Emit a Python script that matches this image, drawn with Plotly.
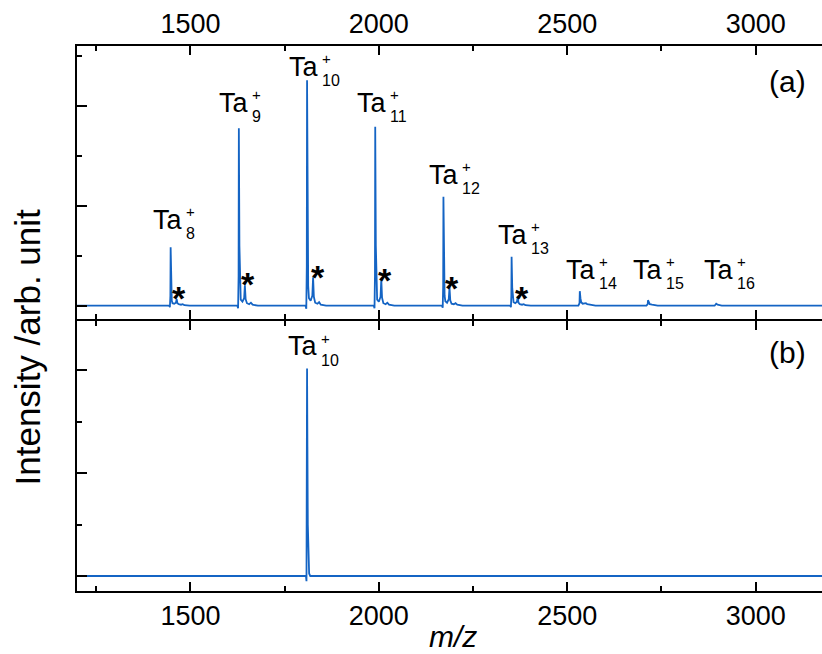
import plotly.graph_objects as go

# ---------------------------------------------------------------------------
# Panel (a): Ta_n+ clusters (n = 8..16). Each cluster holds the bare Ta_n+
# peak, the Ta_nO+ satellite (*) and a weak Ta_nO2+ shoulder.
# m/z values and intensities (arb. unit) per cluster.
# ---------------------------------------------------------------------------
cluster_mz_a = [
    [1443.5, 1445.5, 1446.8, 1447.5, 1449.0, 1450.5, 1452.5, 1457.0, 1461.5, 1463.5, 1465.5, 1469.0, 1475.0, 1479.5, 1484.0, 1498.0],
    [1624.5, 1626.5, 1627.8, 1628.5, 1630.0, 1631.5, 1633.5, 1638.0, 1642.5, 1644.5, 1646.5, 1650.0, 1656.0, 1660.5, 1665.0, 1679.0],
    [1805.5, 1807.5, 1808.8, 1809.5, 1811.0, 1812.5, 1814.5, 1819.0, 1823.5, 1825.5, 1827.5, 1831.0, 1837.0, 1841.5, 1846.0, 1860.0],
    [1986.5, 1988.5, 1989.7, 1990.4, 1992.0, 1993.5, 1995.5, 2000.0, 2004.5, 2006.5, 2008.5, 2012.0, 2018.0, 2022.5, 2027.0, 2041.0],
    [2167.5, 2169.5, 2170.7, 2171.4, 2173.0, 2174.5, 2176.5, 2181.0, 2185.5, 2187.5, 2189.5, 2193.0, 2199.0, 2203.5, 2208.0, 2222.0],
    [2348.5, 2350.5, 2351.6, 2352.3, 2354.0, 2355.5, 2357.5, 2362.0, 2366.5, 2368.5, 2370.5, 2374.0, 2380.0, 2384.5, 2389.0, 2403.0],
    [2529.5, 2532.5, 2533.3, 2535.0, 2537.0, 2541.0, 2549.5, 2553.0, 2560.0, 2575.0],
    [2710.0, 2713.5, 2714.2, 2716.0, 2719.0, 2725.0, 2740.0],
    [2891.0, 2895.2, 2899.0, 2910.0],
]
cluster_int_a = [
    [0.00, -0.03, 0.20, 1.17, 0.40, 0.10, 0.05, 0.04, 0.06, 0.13, 0.05, 0.03, 0.02, 0.03, 0.01, 0.00],
    [0.00, -0.05, 0.60, 3.55, 1.20, 0.30, 0.12, 0.08, 0.15, 0.41, 0.13, 0.05, 0.03, 0.06, 0.02, 0.00],
    [0.00, -0.06, 0.80, 4.51, 1.50, 0.40, 0.15, 0.10, 0.20, 0.57, 0.18, 0.06, 0.04, 0.07, 0.02, 0.00],
    [0.00, -0.05, 0.60, 3.58, 1.20, 0.30, 0.12, 0.08, 0.18, 0.53, 0.16, 0.05, 0.03, 0.06, 0.02, 0.00],
    [0.00, -0.04, 0.40, 2.18, 0.75, 0.20, 0.09, 0.06, 0.13, 0.37, 0.11, 0.04, 0.03, 0.05, 0.02, 0.00],
    [0.00, -0.03, 0.20, 0.98, 0.35, 0.12, 0.07, 0.05, 0.08, 0.18, 0.06, 0.03, 0.02, 0.03, 0.01, 0.00],
    [0.00, 0.05, 0.29, 0.15, 0.07, 0.04, 0.05, 0.03, 0.02, 0.00],
    [0.00, 0.03, 0.11, 0.07, 0.03, 0.02, 0.00],
    [0.00, 0.04, 0.02, 0.00],
]
cluster_size = ["8", "9", "10", "11", "12", "13", "14", "15", "16"]

# Panel (b): mass-selected Ta10+
mz_b = [1199.0, 1806.5, 1808.0, 1809.0, 1809.5, 1810.5, 1811.5, 1813.0, 1815.0, 1818.0, 3176.0]
int_b = [0.00, 0.00, -0.10, 2.00, 4.03, 2.50, 1.00, 0.30, 0.05, 0.00, 0.00]

MZ_RANGE = [1199.0, 3176.0]

# spectrum (a) assembled from the clusters, with flat baseline between them
mz_a = [MZ_RANGE[0]]
int_a = [0.0]
for xs, ys in zip(cluster_mz_a, cluster_int_a):
    mz_a += xs
    int_a += ys
mz_a.append(MZ_RANGE[1])
int_a.append(0.0)

# ---------------------------------------------------------------------------
# Label placement (m/z of the right edge of "Ta", intensity of its baseline)
# ---------------------------------------------------------------------------
label_pos_a = [
    (1478.8, 1.514), (1653.0, 3.854), (1838.8, 4.574), (2018.6, 3.854),
    (2210.5, 2.414), (2392.0, 1.214), (2573.4, 0.514), (2750.5, 0.514),
    (2940.6, 0.514),
]
label_pos_b = [(1834.6, 4.258)]
oxide_mark_pos = [
    (1469.8, 0.314), (1653.0, 0.594), (1838.8, 0.728),
    (2015.9, 0.668), (2193.0, 0.514), (2378.8, 0.314),
]

BLUE = "#1464c4"
FONT = "Liberation Sans, Arial, sans-serif"
FS_TA, FS_SUB, FS_PLUS = 27, 16, 15
FS_TICK, FS_TITLE, FS_MARK, FS_PANEL = 27, 35, 34, 30

fig = go.Figure()
fig.add_trace(go.Scatter(x=mz_a, y=int_a, mode="lines", xaxis="x", yaxis="y",
                         line=dict(color=BLUE, width=1.8), hoverinfo="skip",
                         showlegend=False))
fig.add_trace(go.Scatter(x=mz_b, y=int_b, mode="lines", xaxis="x2", yaxis="y2",
                         line=dict(color=BLUE, width=1.8), hoverinfo="skip",
                         showlegend=False))

annotations = []


def cluster_label(xref, yref, x, y, n):
    """Ta with stacked superscript '+' and subscript cluster size."""
    annotations.append(dict(
        x=x, y=y, xref=xref, yref=yref, text="Ta", showarrow=False,
        xanchor="right", yanchor="bottom", borderpad=0, xshift=2,
        yshift=-0.212 * FS_TA, font=dict(family=FONT, size=FS_TA, color="black")))
    annotations.append(dict(
        x=x, y=y, xref=xref, yref=yref, text=n, showarrow=False,
        xanchor="left", yanchor="bottom", borderpad=0, xshift=3,
        yshift=-9.5 - 0.212 * FS_SUB, font=dict(family=FONT, size=FS_SUB, color="black")))
    annotations.append(dict(
        x=x, y=y, xref=xref, yref=yref, text="+", showarrow=False,
        xanchor="center", yanchor="middle", borderpad=0, xshift=8.5,
        yshift=18.5, font=dict(family=FONT, size=FS_PLUS, color="black")))


for (x, y), n in zip(label_pos_a, cluster_size):
    cluster_label("x", "y", x, y, n)
cluster_label("x2", "y2", label_pos_b[0][0], label_pos_b[0][1], "10")

for x, y in oxide_mark_pos:
    annotations.append(dict(
        x=x, y=y, xref="x", yref="y", text="<b>*</b>", showarrow=False,
        xanchor="center", yanchor="middle", borderpad=0,
        yshift=-0.24 * FS_MARK, font=dict(family=FONT, size=FS_MARK, color="black")))

annotations.append(dict(x=0.954, y=0.934, xref="paper", yref="paper", text="(a)",
                        showarrow=False, xanchor="center", yanchor="middle",
                        font=dict(family=FONT, size=FS_PANEL, color="black")))
annotations.append(dict(x=0.954, y=0.4367, xref="paper", yref="paper", text="(b)",
                        showarrow=False, xanchor="center", yanchor="middle",
                        font=dict(family=FONT, size=FS_PANEL, color="black")))
annotations.append(dict(x=-0.0658, y=0.4486, xref="paper", yref="paper",
                        text="Intensity /arb. unit", textangle=-90, showarrow=False,
                        xanchor="center", yanchor="middle",
                        font=dict(family=FONT, size=FS_TITLE, color="black")))
annotations.append(dict(x=0.5047, y=-0.083, xref="paper", yref="paper",
                        text="<i>m/z</i>", showarrow=False,
                        xanchor="center", yanchor="middle",
                        font=dict(family=FONT, size=30, color="black")))

x_common = dict(
    range=MZ_RANGE, showline=True, linecolor="black", linewidth=2,
    mirror="ticks", ticks="inside", ticklen=9, tickwidth=1.5, tickcolor="black",
    tick0=1500, dtick=500, showgrid=False, zeroline=False,
    tickfont=dict(family=FONT, size=FS_TICK, color="black"),
    minor=dict(ticks="inside", ticklen=5, tickwidth=1.5, tickcolor="black",
               dtick=250, tick0=1250, showgrid=False),
)
y_common = dict(
    showline=True, linecolor="black", linewidth=2, mirror=False,
    ticks="inside", ticklen=10, tickwidth=1.5, tickcolor="black",
    tick0=0, dtick=2, showticklabels=False, showgrid=False, zeroline=False,
    minor=dict(ticks="inside", ticklen=5, tickwidth=1.5, tickcolor="black",
               dtick=1, tick0=0, showgrid=False),
)

fig.update_layout(
    width=822, height=654,
    margin=dict(l=77, r=0, t=46, b=63),
    paper_bgcolor="white", plot_bgcolor="white",
    showlegend=False,
    xaxis=dict(x_common, domain=[0, 1], anchor="y", side="top", showticklabels=True),
    xaxis2=dict(x_common, domain=[0, 1], anchor="y2", side="bottom", matches="x"),
    yaxis=dict(y_common, domain=[0.5, 1], anchor="x", range=[-0.256, 5.194]),
    yaxis2=dict(y_common, domain=[0, 0.4963], anchor="x2", range=[-0.291, 4.961]),
    annotations=annotations,
)

fig.write_html("out.html")
